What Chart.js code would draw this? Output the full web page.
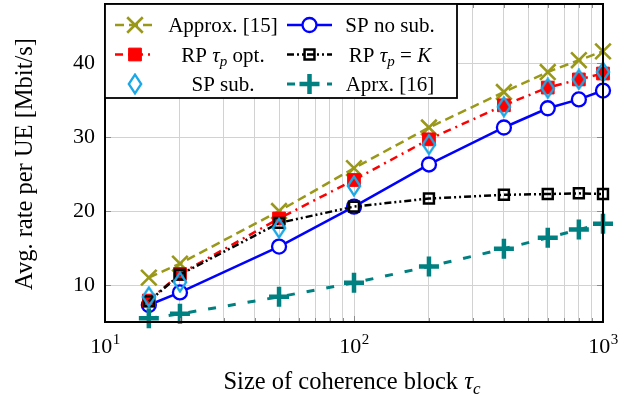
<!DOCTYPE html>
<html>
<head>
<meta charset="utf-8">
<script src="https://cdn.jsdelivr.net/npm/chart.js@4.4.0/dist/chart.umd.min.js"></script>
<style>
  html, body { margin: 0; padding: 0; background: #fff; }
  #wrap { width: 635px; height: 396px; position: relative; }
</style>
</head>
<body>
<div id="wrap"><canvas id="c" width="635" height="396"></canvas></div>
<script>
// ---- data ----
const coherenceBlock = [15, 20, 50, 100, 200, 400, 600, 800, 1000];
const approx15 = [11.0, 12.9, 20.0, 25.8, 31.3, 36.1, 38.8, 40.4, 41.6];
const spNoSub  = [7.3, 9.0, 15.2, 20.6, 26.3, 31.3, 33.9, 35.1, 36.3];
const rpOpt    = [7.9, 11.5, 19.0, 24.2, 29.7, 34.3, 36.7, 37.8, 38.6];
const rpK      = [7.8, 11.4, 18.4, 20.6, 21.7, 22.2, 22.3, 22.4, 22.3];
const spSub    = [8.4, 10.4, 17.7, 23.4, 29.0, 34.1, 36.6, 37.8, 38.8];
const aprx16   = [5.5, 6.1, 8.4, 10.3, 12.5, 14.9, 16.4, 17.5, 18.3];
const yTicks = [10, 20, 30, 40];
const xMajorTicks = [10, 100, 1000];
const seriesLabels = ['Approx. [15]', 'SP no sub.', 'RP τp opt.', 'RP τp = K', 'SP sub.', 'Aprx. [16]'];
const xTitle = 'Size of coherence block τc';
const yTitle = 'Avg. rate per UE [Mbit/s]';

const SERIF = "'Liberation Serif', 'DejaVu Serif', serif";
const OLIVE = '#9a9818', BLUE = '#0000ff', RED = '#ff0000', BLACK = '#000000', CYAN = '#1aa8e6', TEAL = '#008080';

// tall diamond marker (pgfplots style)
function makeDiamond() {
  const c = document.createElement('canvas');
  c.width = 16; c.height = 22;
  const g = c.getContext('2d');
  g.strokeStyle = CYAN; g.lineWidth = 2.3; g.lineJoin = 'miter';
  g.beginPath();
  g.moveTo(8, 1.6); g.lineTo(14.2, 11); g.lineTo(8, 20.4); g.lineTo(1.8, 11); g.closePath();
  g.stroke();
  return c;
}
const diamond = makeDiamond();

function pts(arr) { return coherenceBlock.map((x, i) => ({ x: x, y: arr[i] })); }

const datasets = [
  { label: seriesLabels[0], data: pts(approx15), borderColor: OLIVE, borderWidth: 2.5, borderDash: [9, 5],
    pointStyle: 'crossRot', pointRadius: 11, pointBorderWidth: 2.6, pointBorderColor: OLIVE, pointBackgroundColor: OLIVE },
  { label: seriesLabels[1], data: pts(spNoSub), borderColor: BLUE, borderWidth: 2.5, borderDash: [],
    pointStyle: 'circle', pointRadius: 7, pointBorderWidth: 2.3, pointBorderColor: BLUE, pointBackgroundColor: '#ffffff' },
  { label: seriesLabels[2], data: pts(rpOpt), borderColor: RED, borderWidth: 2.5, borderDash: [8, 5, 2, 5],
    pointStyle: 'rect', pointRadius: 9, pointBorderWidth: 1, pointBorderColor: RED, pointBackgroundColor: RED },
  { label: seriesLabels[3], data: pts(rpK), borderColor: BLACK, borderWidth: 2.5, borderDash: [7, 3, 2, 3, 2, 3],
    pointStyle: 'rect', pointRadius: 7, pointBorderWidth: 2.5, pointBorderColor: BLACK, pointBackgroundColor: 'rgba(0,0,0,0)' },
  { label: seriesLabels[4], data: pts(spSub), showLine: false, borderColor: CYAN,
    pointStyle: diamond, pointRadius: 8, pointBorderWidth: 0, pointBackgroundColor: 'rgba(0,0,0,0)' },
  { label: seriesLabels[5], data: pts(aprx16), borderColor: TEAL, borderWidth: 3, borderDash: [8, 12],
    pointStyle: 'cross', pointRadius: 10, pointBorderWidth: 4.5, pointBorderColor: TEAL, pointBackgroundColor: TEAL }
];
datasets.forEach((d, i) => { d.order = 10 - i; d.clip = false; d.tension = 0; d.fill = false; d.pointHoverRadius = d.pointRadius; });

// rich text pieces for legend / title (style only)
const rich = {
  'RP τp opt.': [{ t: 'RP ' }, { t: 'τ', i: true }, { t: 'p', i: true, sub: true }, { t: ' opt.' }],
  'RP τp = K': [{ t: 'RP ' }, { t: 'τ', i: true }, { t: 'p', i: true, sub: true }, { t: ' = ' }, { t: 'K', i: true }],
  'Size of coherence block τc': [{ t: 'Size of coherence block ' }, { t: 'τ', i: true }, { t: 'c', i: true, sub: true }]
};
function pieces(s) { return rich[s] || [{ t: s }]; }
function fontFor(p, size) { const sz = p.sub ? Math.round(size * 0.7) : size; return (p.i ? 'italic ' : '') + sz + 'px ' + SERIF; }
function richWidth(ctx, s, size) { let w = 0; pieces(s).forEach(p => { ctx.font = fontFor(p, size); w += ctx.measureText(p.t).width; }); return w; }
function drawRich(ctx, s, x, y, size) {
  let cx = x;
  pieces(s).forEach(p => {
    ctx.font = fontFor(p, size);
    ctx.fillText(p.t, cx, p.sub ? y + size * 0.22 : y);
    cx += ctx.measureText(p.t).width;
  });
}

const decor = {
  id: 'decor',
  afterDatasetsDraw(chart) {
    const ctx = chart.ctx, a = chart.chartArea;
    const xs = chart.scales.x, ys = chart.scales.y;
    ctx.save();
    // inner tick marks
    ctx.strokeStyle = '#8c8c8c'; ctx.lineWidth = 1; ctx.setLineDash([]);
    xs.ticks.forEach(t => {
      const px = Math.round(xs.getPixelForValue(t.value)) + 0.5;
      const len = xMajorTicks.includes(t.value) ? 6 : 4;
      ctx.beginPath(); ctx.moveTo(px, a.bottom); ctx.lineTo(px, a.bottom - len); ctx.moveTo(px, a.top); ctx.lineTo(px, a.top + len); ctx.stroke();
    });
    yTicks.forEach(v => {
      const py = Math.round(ys.getPixelForValue(v)) + 0.5;
      ctx.beginPath(); ctx.moveTo(a.left, py); ctx.lineTo(a.left + 6, py); ctx.moveTo(a.right, py); ctx.lineTo(a.right - 6, py); ctx.stroke();
    });
    // frame
    ctx.strokeStyle = '#000'; ctx.lineWidth = 2;
    ctx.strokeRect(a.left, a.top, a.right - a.left, a.bottom - a.top);

    // legend box
    const L = 105, T = 4, R = 457, B = 98;
    ctx.fillStyle = '#fff'; ctx.fillRect(L, T, R - L, B - T);
    ctx.strokeStyle = '#000'; ctx.lineWidth = 1.8; ctx.strokeRect(L, T, R - L, B - T);
    const rowsY = [25, 54.5, 84];
    const cols = [{ x0: 115, x1: 155, tc: 223 }, { x0: 287, x1: 332, tc: 390 }];
    chart.data.datasets.forEach((d, i) => {
      const col = cols[i % 2], y = rowsY[Math.floor(i / 2)];
      if (d.showLine !== false) {
        ctx.save();
        ctx.strokeStyle = d.borderColor; ctx.lineWidth = d.borderWidth; ctx.setLineDash(d.borderDash || []);
        ctx.beginPath(); ctx.moveTo(col.x0, y); ctx.lineTo(col.x1, y); ctx.stroke();
        ctx.restore();
      }
      ctx.save();
      ctx.setLineDash([]);
      ctx.strokeStyle = d.pointBorderColor || d.borderColor; ctx.fillStyle = d.pointBackgroundColor;
      ctx.lineWidth = d.pointBorderWidth;
      Chart.helpers.drawPoint(ctx, { pointStyle: d.pointStyle, radius: d.pointRadius, rotation: 0, borderWidth: d.pointBorderWidth }, (col.x0 + col.x1) / 2, y);
      ctx.restore();
      ctx.fillStyle = '#000'; ctx.textBaseline = 'alphabetic'; ctx.textAlign = 'left';
      const size = 21;
      const w = richWidth(ctx, d.label, size);
      drawRich(ctx, d.label, col.tc - w / 2, y + 7, size);
    });
    ctx.restore();
  },
  afterDraw(chart) {
    const ctx = chart.ctx, xs = chart.scales.x;
    ctx.save();
    ctx.fillStyle = '#000'; ctx.textAlign = 'left'; ctx.textBaseline = 'alphabetic';
    // x tick labels 10^n
    xMajorTicks.forEach(v => {
      const px = xs.getPixelForValue(v);
      const base = '10', exp = String(Math.round(Math.log10(v)));
      ctx.font = '22px ' + SERIF; const wb = ctx.measureText(base).width;
      ctx.font = '15px ' + SERIF; const we = ctx.measureText(exp).width;
      const x0 = px - (wb + we) / 2;
      ctx.font = '22px ' + SERIF; ctx.fillText(base, x0, 353);
      ctx.font = '15px ' + SERIF; ctx.fillText(exp, x0 + wb + 0.5, 344);
    });
    // x title
    const tw = richWidth(ctx, xTitle, 24.5);
    drawRich(ctx, xTitle, 352 - tw / 2, 389, 24.5);
    // y title
    ctx.save();
    ctx.translate(32, 164); ctx.rotate(-Math.PI / 2);
    ctx.font = '24.5px ' + SERIF; ctx.textAlign = 'center';
    ctx.fillText(yTitle, 0, 0);
    ctx.restore();
    ctx.restore();
  }
};

new Chart(document.getElementById('c'), {
  type: 'line',
  data: { datasets: datasets },
  options: {
    responsive: false, animation: false, events: [],
    layout: { autoPadding: false, padding: { top: 4, right: 32, left: 0, bottom: 0 } },
    plugins: { legend: { display: false }, tooltip: { enabled: false } },
    scales: {
      x: {
        type: 'logarithmic', min: 10, max: 1000,
        afterBuildTicks(s) {
          const t = [];
          [10, 100].forEach(d => { for (let k = 1; k < 10; k++) t.push({ value: d * k, major: k === 1 }); });
          t.push({ value: 1000, major: true });
          s.ticks = t;
        },
        afterFit(s) { s.height = 74; s.paddingLeft = 0; s.paddingRight = 0; },
        ticks: { display: false, autoSkip: false },
        grid: { color: '#d2d2d2', lineWidth: 1, drawTicks: false },
        border: { display: false }
      },
      y: {
        type: 'linear', min: 5, max: 48,
        afterBuildTicks(s) { s.ticks = yTicks.map(v => ({ value: v })); },
        afterFit(s) { s.width = 105; s.paddingTop = 0; s.paddingBottom = 0; },
        ticks: { padding: 10, color: '#000', font: { family: SERIF, size: 22, lineHeight: 0.3 } },
        grid: { color: '#d2d2d2', lineWidth: 1, drawTicks: false },
        border: { display: false }
      }
    }
  },
  plugins: [decor]
});
</script>
</body>
</html>
